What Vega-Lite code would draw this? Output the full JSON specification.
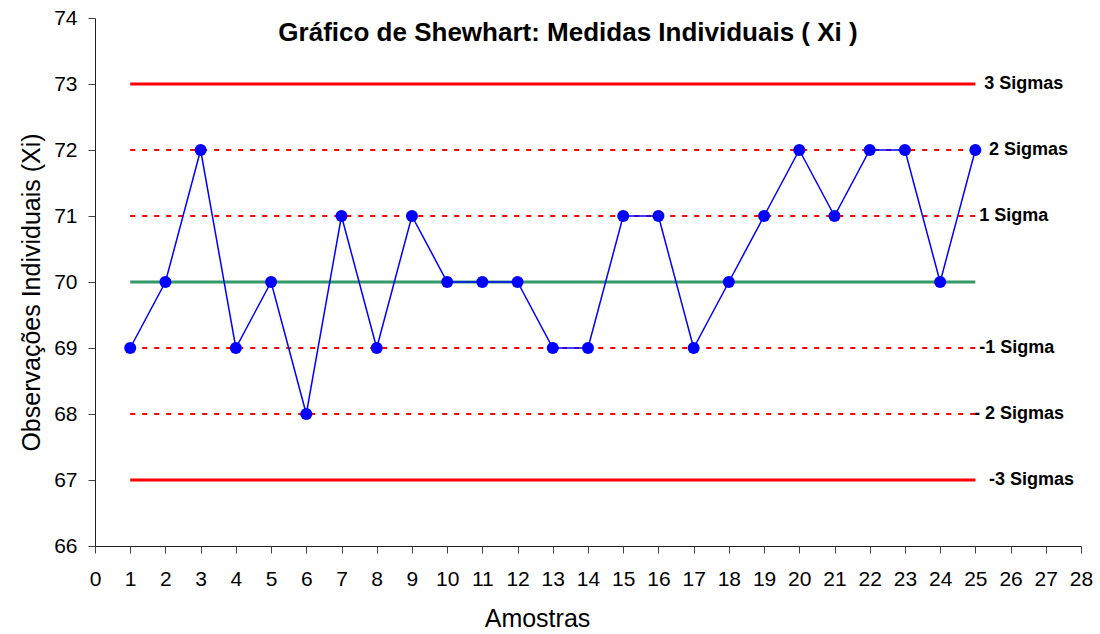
{
  "$schema": "https://vega.github.io/schema/vega-lite/v6.json",
  "width": 986,
  "height": 528,
  "autosize": {"type": "none"},
  "padding": {"left": 95, "top": 18, "right": 19, "bottom": 88},
  "background": "white",
  "title": {
    "text": "Gráfico de Shewhart: Medidas Individuais ( Xi )",
    "font": "Liberation Sans",
    "fontSize": 26,
    "fontWeight": "bold",
    "color": "black",
    "anchor": "middle",
    "baseline": "middle",
    "offset": 0,
    "dy": 52,
    "dx": -20
  },
  "config": {
    "view": {"stroke": null},
    "axis": {
      "grid": false,
      "labelFont": "Liberation Sans",
      "titleFont": "Liberation Sans",
      "labelColor": "black",
      "titleColor": "black",
      "titleFontWeight": "normal",
      "domainColor": "#222222",
      "tickColor": "#444444",
      "labelOverlap": false,
      "format": "d"
    }
  },
  "datasets": {
    "obs": [
      {"amostra": 1, "obs": 69}, {"amostra": 2, "obs": 70}, {"amostra": 3, "obs": 72},
      {"amostra": 4, "obs": 69}, {"amostra": 5, "obs": 70}, {"amostra": 6, "obs": 68},
      {"amostra": 7, "obs": 71}, {"amostra": 8, "obs": 69}, {"amostra": 9, "obs": 71},
      {"amostra": 10, "obs": 70}, {"amostra": 11, "obs": 70}, {"amostra": 12, "obs": 70},
      {"amostra": 13, "obs": 69}, {"amostra": 14, "obs": 69}, {"amostra": 15, "obs": 71},
      {"amostra": 16, "obs": 71}, {"amostra": 17, "obs": 69}, {"amostra": 18, "obs": 70},
      {"amostra": 19, "obs": 71}, {"amostra": 20, "obs": 72}, {"amostra": 21, "obs": 71},
      {"amostra": 22, "obs": 72}, {"amostra": 23, "obs": 72}, {"amostra": 24, "obs": 70},
      {"amostra": 25, "obs": 72}
    ],
    "limites": [
      {"tipo": "limite", "amostra": 1, "fim": 25, "obs": 73},
      {"tipo": "sigma", "amostra": 1, "fim": 25, "obs": 72},
      {"tipo": "sigma", "amostra": 1, "fim": 25, "obs": 71},
      {"tipo": "centro", "amostra": 1, "fim": 25, "obs": 70},
      {"tipo": "sigma", "amostra": 1, "fim": 25, "obs": 69},
      {"tipo": "sigma", "amostra": 1, "fim": 25, "obs": 68},
      {"tipo": "limite", "amostra": 1, "fim": 25, "obs": 67}
    ],
    "rotulos": [
      {"nome": "3 Sigmas", "amostra": 25.25, "obs": 73},
      {"nome": "2 Sigmas", "amostra": 25.39, "obs": 72},
      {"nome": "1 Sigma", "amostra": 25.11, "obs": 71},
      {"nome": "-1 Sigma", "amostra": 25.11, "obs": 69},
      {"nome": "- 2 Sigmas", "amostra": 24.96, "obs": 68},
      {"nome": "-3 Sigmas", "amostra": 25.39, "obs": 67}
    ]
  },
  "encoding": {
    "x": {
      "field": "amostra", "type": "quantitative", "title": "Amostras",
      "scale": {"domain": [0, 28], "nice": false, "zero": false},
      "axis": {
        "values": [0,1,2,3,4,5,6,7,8,9,10,11,12,13,14,15,16,17,18,19,20,21,22,23,24,25,26,27,28],
        "tickCount": 40,
        "format": "d", "labelOverlap": false,
        "labelFontSize": 21, "tickSize": 7, "labelPadding": 15, "labelFlush": false,
        "titleFontSize": 25, "titlePadding": 17, "titleX": 442, "titleAlign": "center"
      }
    },
    "y": {
      "field": "obs", "type": "quantitative", "title": "Observações Individuais (Xi)",
      "scale": {"domain": [66, 74], "nice": false, "zero": false},
      "axis": {
        "values": [66,67,68,69,70,71,72,73,74],
        "tickCount": 20,
        "format": "d", "labelOverlap": false,
        "labelFontSize": 21, "tickSize": 7, "labelPadding": 11, "labelFlush": false,
        "titleFontSize": 25, "titlePadding": 9, "titleY": 274, "titleAlign": "center"
      }
    }
  },
  "layer": [
    {
      "data": {"name": "limites"},
      "transform": [{"filter": "datum.tipo === 'sigma'"}],
      "mark": {"type": "rule", "color": "#FF0000", "strokeWidth": 2, "strokeDash": [5, 7]},
      "encoding": {"x2": {"field": "fim"}}
    },
    {
      "data": {"name": "limites"},
      "transform": [{"filter": "datum.tipo === 'limite'"}],
      "mark": {"type": "rule", "color": "#FF0000", "strokeWidth": 3},
      "encoding": {"x2": {"field": "fim"}}
    },
    {
      "data": {"name": "limites"},
      "transform": [{"filter": "datum.tipo === 'centro'"}],
      "mark": {"type": "rule", "color": "#339966", "strokeWidth": 3},
      "encoding": {"x2": {"field": "fim"}}
    },
    {
      "data": {"name": "obs"},
      "mark": {"type": "line", "color": "#0000FF", "strokeWidth": 1.5},
      "encoding": {}
    },
    {
      "data": {"name": "obs"},
      "mark": {"type": "point", "filled": true, "color": "#0000FF", "opacity": 1, "size": 145},
      "encoding": {}
    },
    {
      "data": {"name": "rotulos"},
      "mark": {"type": "text", "align": "left", "baseline": "middle", "font": "Liberation Sans", "fontSize": 18, "fontWeight": "bold", "color": "black"},
      "encoding": {"text": {"field": "nome"}}
    }
  ]
}
